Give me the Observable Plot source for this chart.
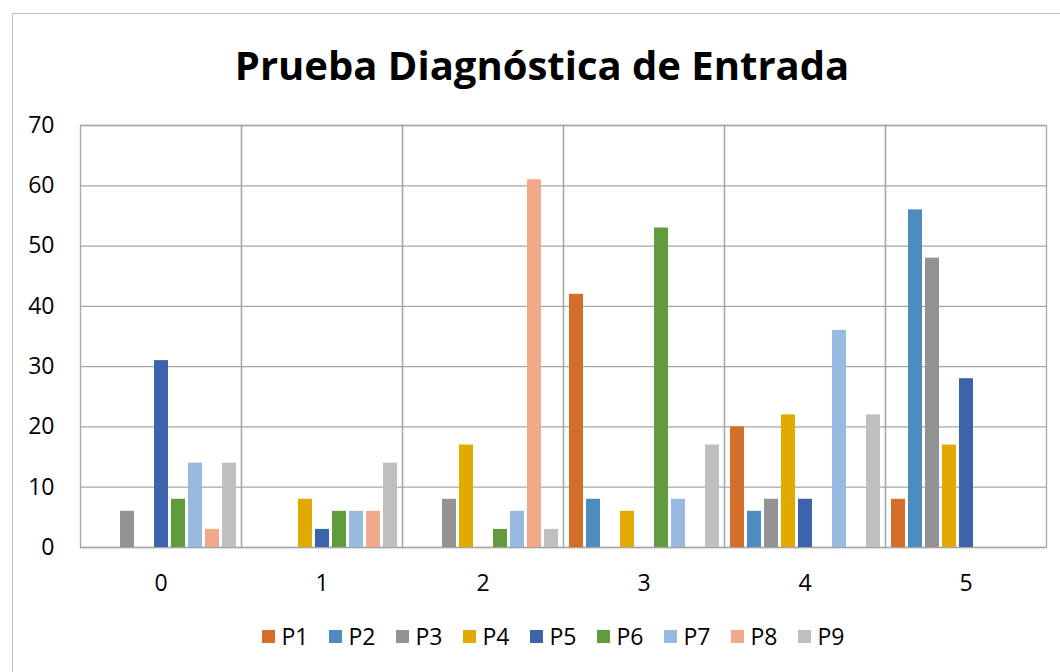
<!DOCTYPE html>
<html>
<head>
<meta charset="utf-8">
<script src="https://cdn.jsdelivr.net/npm/d3@7"></script>
<script src="https://cdn.jsdelivr.net/npm/@observablehq/plot@0.6"></script>
<style>
  html, body { margin: 0; padding: 0; background: #fff; width: 1060px; height: 672px; overflow: hidden; position: relative; font-family: "Open Sans", sans-serif; }
  #border { position: absolute; left: 12px; top: 13px; width: 1100px; height: 720px; border: 1px solid #bfbfbf; box-sizing: border-box; }
  #title { position: absolute; left: 0; width: 1084px; top: 45px; text-align: center; font-size: 40px; font-weight: 700; line-height: 1; color: #000; }
  #chart { position: absolute; left: 0; top: 100px; }
  #legend { position: absolute; left: 0; width: 1106px; top: 625px; display: flex; justify-content: center; align-items: center; font-size: 23px; line-height: 1; color: #000; }
  .item { display: flex; align-items: center; margin: 0 10px; }
  .sw { width: 13px; height: 13px; margin-right: 7px; }
</style>
</head>
<body>
<div id="border"></div>
<div id="title">Prueba Diagnóstica de Entrada</div>
<div id="chart"></div>
<div id="legend"></div>
<script>
const categories = ["0", "1", "2", "3", "4", "5"];
const seriesNames = ["P1", "P2", "P3", "P4", "P5", "P6", "P7", "P8", "P9"];
const colors = ["#d46f2b", "#4e8bc0", "#939393", "#e2aa00", "#3b64ad", "#629a3e", "#98bae0", "#f1a98a", "#bfbfbf"];
const yTicks = [0, 10, 20, 30, 40, 50, 60, 70];

// values per series, one per category 0..5
const P1 = [0, 0, 0, 42, 20, 8];
const P2 = [0, 0, 0, 8, 6, 56];
const P3 = [6, 0, 8, 0, 8, 48];
const P4 = [0, 8, 17, 6, 22, 17];
const P5 = [31, 3, 0, 0, 8, 28];
const P6 = [8, 6, 3, 53, 0, 0];
const P7 = [14, 6, 6, 8, 36, 0];
const P8 = [3, 6, 61, 0, 0, 0];
const P9 = [14, 14, 3, 17, 22, 0];

const values = [P1, P2, P3, P4, P5, P6, P7, P8, P9];
const data = seriesNames.flatMap((s, i) => categories.map((c, j) => ({cat: c, series: s, value: values[i][j]})));

const grid = "#a6a6a6";
const chart = Plot.plot({
  width: 1060,
  height: 500,
  marginTop: 25,
  marginLeft: 80,
  marginRight: 14,
  marginBottom: 53,
  style: {fontFamily: "'Open Sans', sans-serif", fontSize: "23px", color: "#000", background: "transparent", overflow: "visible"},
  fx: {domain: categories, padding: 0, label: null, axis: "bottom", tickSize: 0, tickPadding: 27},
  x: {domain: seriesNames, axis: null, paddingInner: 0.2, paddingOuter: 0.25},
  y: {domain: [0, 70], ticks: yTicks, label: null, tickSize: 0, tickPadding: 26, tickFormat: d => String(d)},
  color: {domain: seriesNames, range: colors},
  marks: [
    Plot.ruleY(yTicks, {y: d => d, stroke: grid, strokeWidth: 1.3}),
    Plot.frame({stroke: grid, strokeWidth: 1.3}),
    Plot.barY(data, {fx: "cat", x: "series", y: "value", fill: "series"})
  ]
});
document.getElementById("chart").appendChild(chart);

const legend = document.getElementById("legend");
seriesNames.forEach((s, i) => {
  const item = document.createElement("div");
  item.className = "item";
  const sw = document.createElement("div");
  sw.className = "sw";
  sw.style.background = colors[i];
  const t = document.createElement("span");
  t.textContent = s;
  item.appendChild(sw);
  item.appendChild(t);
  legend.appendChild(item);
});
</script>
</body>
</html>
